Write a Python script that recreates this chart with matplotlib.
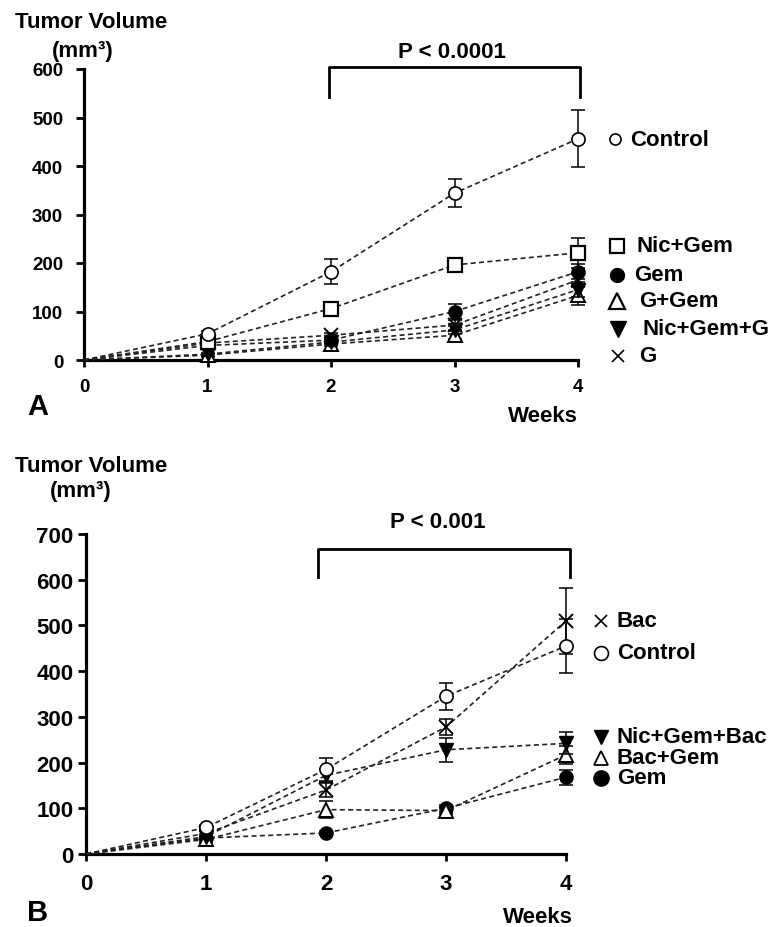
import matplotlib
matplotlib.use("Agg")
import matplotlib.pyplot as plt

plt.rcParams['font.family'] = ['Liberation Sans', 'DejaVu Sans']
plt.rcParams['font.weight'] = 'bold'

weeks = [0, 1, 2, 3, 4]
week_ticks = [0, 1, 2, 3, 4]

# ---- Panel A data ----
a_names = ["Control", "Nic+Gem", "Gem", "G+Gem", "Nic+Gem+G", "G"]
a_control = [0, 54, 182, 344, 456]
a_control_err = [0, 5, 26, 29, 59]
a_nicgem = [0, 38, 106, 196, 221]
a_nicgem_err = [0, 5, 8, 15, 31]
a_gem = [0, 30, 41, 100, 182]
a_gem_err = [0, 5, 5, 15, 15]
a_ggem = [0, 10, 33, 51, 133]
a_ggem_err = [0, 3, 5, 8, 20]
a_nicgemg = [0, 12, 37, 62, 145]
a_nicgemg_err = [0, 3, 5, 8, 15]
a_g = [0, 35, 51, 72, 165]
a_g_err = [0, 5, 5, 10, 15]
a_yticks = [0, 100, 200, 300, 400, 500, 600]

# ---- Panel B data ----
b_names = ["Bac", "Control", "Nic+Gem+Bac", "Bac+Gem", "Gem"]
b_bac = [0, 45, 140, 278, 510]
b_bac_err = [0, 5, 15, 18, 72]
b_control = [0, 58, 185, 345, 455]
b_control_err = [0, 5, 25, 30, 58]
b_nicgembac = [0, 38, 172, 228, 242]
b_nicgembac_err = [0, 5, 15, 26, 24]
b_bacgem = [0, 32, 97, 95, 217]
b_bacgem_err = [0, 5, 18, 8, 20]
b_gem = [0, 35, 46, 100, 168]
b_gem_err = [0, 4, 5, 8, 16]
b_yticks = [0, 100, 200, 300, 400, 500, 600, 700]

W, H = 771, 928
fig = plt.figure(figsize=(W / 100, H / 100), dpi=100)

def fx(px):
    return px / W

def fy(py):
    return 1 - py / H

# marker styles
STY = {
    'open_o': dict(marker='o', mfc='white', mec='black', ms=9.5, mew=1.2),
    'open_s': dict(marker='s', mfc='white', mec='black', ms=10.5, mew=1.6),
    'fill_o': dict(marker='o', mfc='black', mec='black', ms=9.5, mew=1.0),
    'open_t': dict(marker='^', mfc='white', mec='black', ms=9.5, mew=1.4),
    'fill_v': dict(marker='v', mfc='black', mec='black', ms=9.5, mew=1.0),
    'x': dict(marker='x', mfc='black', mec='black', ms=9.5, mew=1.4),
}

def draw_series(ax, vals, errs, style, z):
    ax.plot(weeks, vals, linestyle=(0, (3, 2)), color='#222222', lw=1.2,
            zorder=z, clip_on=False)
    ax.errorbar(weeks[1:], vals[1:], yerr=errs[1:], fmt='none', ecolor='black',
                elinewidth=1.1, capsize=5, capthick=1.1, zorder=z + 0.1,
                clip_on=False)
    ax.plot(weeks[1:], vals[1:], linestyle='none', zorder=z + 0.2,
            clip_on=False, **STY[style])

def style_axes(ax, yticks, ymax, tsize, ypad, xpad):
    ax.set_xlim(0, 4)
    ax.set_ylim(0, ymax)
    ax.set_xticks(week_ticks)
    ax.set_yticks(yticks)
    for s in ['top', 'right']:
        ax.spines[s].set_visible(False)
    for s in ['left', 'bottom']:
        ax.spines[s].set_linewidth(2.3)
    ax.tick_params(axis='y', direction='out', length=6, width=2.0,
                   labelsize=tsize, pad=ypad)
    ax.tick_params(axis='x', direction='out', length=5, width=2.0,
                   labelsize=tsize, pad=xpad)
    for lab in ax.get_xticklabels() + ax.get_yticklabels():
        lab.set_fontweight('bold')
    ax.patch.set_alpha(0)

# ---------------- Panel A ----------------
axA = fig.add_axes([fx(84), fy(361), fx(578) - fx(84), fy(70) - fy(361)])
style_axes(axA, a_yticks, 600, 13.5, 9, 8)
draw_series(axA, a_ggem, a_ggem_err, 'open_t', 3)
draw_series(axA, a_nicgemg, a_nicgemg_err, 'fill_v', 3.3)
draw_series(axA, a_g, a_g_err, 'x', 3.6)
draw_series(axA, a_gem, a_gem_err, 'fill_o', 4)
draw_series(axA, a_nicgem, a_nicgem_err, 'open_s', 4.5)
draw_series(axA, a_control, a_control_err, 'open_o', 5)
# bracket
axA.plot([1.98, 1.98, 4.02, 4.02], [542, 604, 604, 542], color='black',
         lw=2.0, clip_on=False)
axA.text(2.98, 636, "P < 0.0001", ha='center', va='center', fontsize=16,
         fontweight='bold')

# ---------------- Panel B ----------------
axB = fig.add_axes([fx(86), fy(855), fx(566) - fx(86), fy(535) - fy(855)])
style_axes(axB, b_yticks, 700, 16, 3, 9)
draw_series(axB, b_gem, b_gem_err, 'fill_o', 3)
draw_series(axB, b_bacgem, b_bacgem_err, 'open_t', 3.3)
draw_series(axB, b_nicgembac, b_nicgembac_err, 'fill_v', 3.6)
draw_series(axB, b_bac, b_bac_err, 'x', 4)
draw_series(axB, b_control, b_control_err, 'open_o', 4.5)
axB.plot([1.93, 1.93, 4.03, 4.03], [606, 667, 667, 606], color='black',
         lw=2.0, clip_on=False)
axB.text(2.93, 727, "P < 0.001", ha='center', va='center', fontsize=16,
         fontweight='bold')

# ---------------- Overlay for labels / legends ----------------
ov = fig.add_axes([0, 0, 1, 1])
ov.set_xlim(0, W)
ov.set_ylim(H, 0)
ov.axis('off')
ov.patch.set_alpha(0)

def txt(x, y, s, size=16, ha='left'):
    ov.text(x, y, s, fontsize=size, fontweight='bold', ha=ha, va='center')

# panel A labels
txt(15, 23, "Tumor Volume")
txt(52, 52, "(mm³)")
txt(27, 407, "A", size=21)
txt(578, 417, "Weeks", ha='right')

# panel B labels
txt(15, 467, "Tumor Volume")
txt(50, 492, "(mm³)")
txt(27, 913, "B", size=21)
txt(573, 918, "Weeks", ha='right')

# legend A
legA = [
    (615, 140, 630, a_names[0], dict(marker='o', mfc='white', mec='black', ms=8, mew=1.2)),
    (617, 247, 637, a_names[1], dict(marker='s', mfc='white', mec='black', ms=10, mew=1.6)),
    (617, 276, 634, a_names[2], dict(marker='o', mfc='black', mec='black', ms=10)),
    (617, 302, 639, a_names[3], dict(marker='^', mfc='white', mec='black', ms=11, mew=1.6)),
    (618, 330, 642, a_names[4], dict(marker='v', mfc='black', mec='black', ms=11)),
    (618, 357, 639, a_names[5], dict(marker='x', mfc='black', mec='black', ms=9, mew=1.2)),
]
for mx, my, tx, name, st in legA:
    ov.plot([mx], [my], linestyle='none', **st)
    txt(tx, my, name, size=16)

legB = [
    (601, 622, 617, b_names[0], dict(marker='x', mfc='black', mec='black', ms=9, mew=1.2)),
    (601, 654, 617, b_names[1], dict(marker='o', mfc='white', mec='black', ms=10, mew=1.2)),
    (601, 738, 617, b_names[2], dict(marker='v', mfc='black', mec='black', ms=10)),
    (601, 759, 617, b_names[3], dict(marker='^', mfc='white', mec='black', ms=10, mew=1.3)),
    (601, 779, 617, b_names[4], dict(marker='o', mfc='black', mec='black', ms=11)),
]
for mx, my, tx, name, st in legB:
    ov.plot([mx], [my], linestyle='none', **st)
    txt(tx, my, name)

fig.savefig("out.png", dpi=100)
